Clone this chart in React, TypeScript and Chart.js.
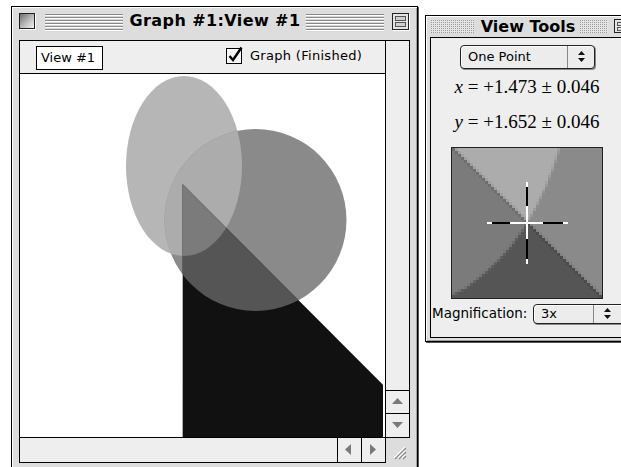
import React, { useEffect, useRef } from "react";
import { Chart, registerables } from "chart.js";

Chart.register(...registerables);

// ---------- data (graph units) ----------
const VIEW_X = [-10.89, 10.89];
const VIEW_Y = [-10.89, 10.89];
const ELLIPSE_CENTER = [-1.05, 5.37];
const ELLIPSE_RADII = [3.48, 5.4];
const CIRCLE_CENTER = [3.24, 2.13];
const CIRCLE_RADIUS = [5.46];
const TRIANGLE_X = [-1.13, 12, 12, -1.13];
const TRIANGLE_Y = [4.27, -8.86, -12, -12];
const POINT = [1.473, 1.652];
const POINT_ERROR = [0.046, 0.046];
const MAGNIFICATION = [3];

// region fill colours: ellipse, circle, ellipse∩circle, triangle, triangle∩circle, all three
const REGION_COLORS = ["#b6b6b6", "#8a8a8a", "#acacac", "#111111", "#555555", "#7b7b7b"];

const SANS = '"DejaVu Sans", Verdana, sans-serif';
const SERIF = '"Liberation Serif", "DejaVu Serif", serif';

const shapesPlugin = {
  id: "shapes",
  beforeDatasetsDraw(chart: any) {
    const { ctx, chartArea: a, scales } = chart;
    const X = (v: number) => scales.x.getPixelForValue(v);
    const Y = (v: number) => scales.y.getPixelForValue(v);
    const ellipse = () => {
      const cx = X(ELLIPSE_CENTER[0]);
      const cy = Y(ELLIPSE_CENTER[1]);
      ctx.beginPath();
      ctx.ellipse(
        cx,
        cy,
        Math.abs(X(ELLIPSE_CENTER[0] + ELLIPSE_RADII[0]) - cx),
        Math.abs(Y(ELLIPSE_CENTER[1] + ELLIPSE_RADII[1]) - cy),
        0,
        0,
        Math.PI * 2
      );
    };
    const circle = () => {
      const cx = X(CIRCLE_CENTER[0]);
      const cy = Y(CIRCLE_CENTER[1]);
      ctx.beginPath();
      ctx.ellipse(
        cx,
        cy,
        Math.abs(X(CIRCLE_CENTER[0] + CIRCLE_RADIUS[0]) - cx),
        Math.abs(Y(CIRCLE_CENTER[1] + CIRCLE_RADIUS[0]) - cy),
        0,
        0,
        Math.PI * 2
      );
    };
    const triangle = () => {
      ctx.beginPath();
      TRIANGLE_X.forEach((x, i) => {
        const p = [X(x), Y(TRIANGLE_Y[i])];
        if (i === 0) ctx.moveTo(p[0], p[1]);
        else ctx.lineTo(p[0], p[1]);
      });
      ctx.closePath();
    };
    const fill = (path: () => void, color: string) => {
      path();
      ctx.fillStyle = color;
      ctx.fill();
    };
    const clip = (path: () => void) => {
      path();
      ctx.clip();
    };
    ctx.save();
    ctx.beginPath();
    ctx.rect(a.left, a.top, a.right - a.left, a.bottom - a.top);
    ctx.clip();
    ctx.fillStyle = "#ffffff";
    ctx.fillRect(a.left, a.top, a.right - a.left, a.bottom - a.top);
    fill(ellipse, REGION_COLORS[0]);
    fill(circle, REGION_COLORS[1]);
    ctx.save();
    clip(circle);
    fill(ellipse, REGION_COLORS[2]);
    ctx.restore();
    fill(triangle, REGION_COLORS[3]);
    ctx.save();
    clip(triangle);
    fill(circle, REGION_COLORS[4]);
    clip(circle);
    fill(ellipse, REGION_COLORS[5]);
    ctx.restore();
    ctx.restore();
  },
};

function GraphCanvas(props: {
  size: number;
  xRange: number[];
  yRange: number[];
  dpr: number;
  style?: React.CSSProperties;
}) {
  const ref = useRef<HTMLCanvasElement | null>(null);
  useEffect(() => {
    if (!ref.current) return;
    const chart = new Chart(ref.current, {
      type: "scatter",
      data: { datasets: [] },
      options: {
        responsive: false,
        animation: false,
        devicePixelRatio: props.dpr,
        events: [],
        layout: { padding: 0 },
        plugins: { legend: { display: false }, tooltip: { enabled: false } },
        scales: {
          x: { type: "linear", display: false, min: props.xRange[0], max: props.xRange[1] },
          y: { type: "linear", display: false, min: props.yRange[0], max: props.yRange[1] },
        },
      } as any,
      plugins: [shapesPlugin],
    });
    return () => chart.destroy();
  }, []);
  return (
    <canvas
      ref={ref}
      width={props.size}
      height={props.size}
      style={{ position: "absolute", width: props.size, height: props.size, ...props.style }}
    />
  );
}

const B = (
  l: number,
  t: number,
  w: number,
  h: number,
  style: React.CSSProperties = {},
  children: React.ReactNode = null,
  key?: string
) => (
  <div
    key={key}
    style={{ position: "absolute", left: l, top: t, width: w, height: h, boxSizing: "border-box", ...style }}
  >
    {children}
  </div>
);

const stripes =
  "repeating-linear-gradient(to bottom, #8a8a8a 0px, #8a8a8a 1px, #ffffff 1px, #ffffff 2px, #d8d8d8 2px, #d8d8d8 3px)";

function Dots({ x, y, w, h, id }: { x: number; y: number; w: number; h: number; id: string }) {
  return (
    <svg style={{ position: "absolute", left: x, top: y }} width={w} height={h}>
      <defs>
        <pattern id={id} x={0} y={0} width={2} height={2} patternUnits="userSpaceOnUse">
          <rect x={0} y={0} width={2} height={2} fill="#e6e6e6" />
          <rect x={0} y={0} width={1} height={1} fill="#9a9a9a" />
        </pattern>
      </defs>
      <rect x={0} y={0} width={w} height={h} fill={`url(#${id})`} />
    </svg>
  );
}

function UpDown({ x, y }: { x: number; y: number }) {
  return (
    <svg style={{ position: "absolute", left: x, top: y }} width={9} height={13}>
      <polygon points="1,5 8,5 4.5,1" fill="#111" />
      <polygon points="1,8 8,8 4.5,12" fill="#111" />
    </svg>
  );
}

function Tri({ x, y, dir }: { x: number; y: number; dir: string }) {
  const pts: Record<string, string> = {
    up: "0,6 11,6 5.5,0",
    down: "0,0 11,0 5.5,6",
    left: "6,0 6,11 0,5.5",
    right: "0,0 0,11 6,5.5",
  };
  const vertical = dir === "up" || dir === "down";
  return (
    <svg style={{ position: "absolute", left: x, top: y }} width={vertical ? 11 : 6} height={vertical ? 6 : 11}>
      <polygon points={pts[dir]} fill="#7a7a7a" />
    </svg>
  );
}

export default function App() {
  const unitsPerPx = (VIEW_X[1] - VIEW_X[0]) / 363;
  const magHalf = (75 / MAGNIFICATION[0]) * unitsPerPx;
  const magX = [POINT[0] - magHalf, POINT[0] + magHalf];
  const magY = [POINT[1] - magHalf, POINT[1] + magHalf];
  const fmt = (v: number) => (v >= 0 ? "+" : "−") + Math.abs(v).toFixed(3);

  const cross: React.ReactNode[] = [];
  const cx = 526;
  const cy = 222;
  // vertical
  cross.push(B(cx, cy - 40, 2, 5, { background: "#fff" }, null, "v1"));
  cross.push(B(cx, cy - 35, 2, 19, { background: "#000" }, null, "v2"));
  cross.push(B(cx, cy - 16, 2, 33, { background: "#fff" }, null, "v3"));
  cross.push(B(cx, cy + 17, 2, 20, { background: "#000" }, null, "v4"));
  cross.push(B(cx, cy + 37, 2, 5, { background: "#fff" }, null, "v5"));
  // horizontal
  cross.push(B(cx - 39, cy, 5, 2, { background: "#fff" }, null, "h1"));
  cross.push(B(cx - 34, cy, 18, 2, { background: "#000" }, null, "h2"));
  cross.push(B(cx - 16, cy, 33, 2, { background: "#fff" }, null, "h3"));
  cross.push(B(cx + 17, cy, 20, 2, { background: "#000" }, null, "h4"));
  cross.push(B(cx + 37, cy, 5, 2, { background: "#fff" }, null, "h5"));

  return (
    <div
      style={{
        position: "fixed",
        left: 0,
        top: 0,
        width: 621,
        height: 467,
        overflow: "hidden",
        background: "#ffffff",
        fontFamily: SANS,
        color: "#000",
      }}
    >
      {/* ===== Main window ===== */}
      {B(11, 6, 407, 470, {
        border: "1px solid #000",
        background: "#dddddd",
        boxShadow: "1px 1px 0 #555, inset 1px 1px 0 #fff, inset -1px -1px 0 #a0a0a0",
      })}
      {B(19, 13, 16, 16, {
        border: "1px solid #222",
        background: "linear-gradient(135deg, #6e6e6e 0%, #bdbdbd 55%, #f2f2f2 100%)",
        boxShadow: "1px 1px 0 #fff",
      })}
      {B(45, 14, 78, 18, { background: stripes })}
      {B(306, 14, 78, 18, { background: stripes })}
      {B(124, 9, 182, 24, {
        textAlign: "center",
        fontWeight: "bold",
        fontSize: 16,
        lineHeight: "24px",
        letterSpacing: 0.4,
        whiteSpace: "nowrap",
      }, "Graph #1:View #1")}
      {B(392, 13, 17, 17, { border: "1px solid #222", background: "#e4e4e4", boxShadow: "1px 1px 0 #fff" },
        <>
          {B(2, 2, 11, 5, { border: "1px solid #555", background: "#cfcfcf" })}
          {B(2, 8, 11, 5, { border: "1px solid #555", background: "#cfcfcf" })}
        </>
      )}

      {/* content box */}
      {B(19, 40, 367, 423, { border: "1px solid #000", background: "#ffffff" })}
      {/* header */}
      {B(20, 41, 365, 33, { background: "#eeeeee", borderBottom: "1px solid #000" })}
      {B(36, 46, 67, 24, {
        border: "1px solid #000",
        background: "#fff",
        fontSize: 13,
        lineHeight: "22px",
        paddingLeft: 4,
        whiteSpace: "nowrap",
      }, "View #1")}
      <svg style={{ position: "absolute", left: 226, top: 46 }} width={19} height={19}>
        <rect x={0.5} y={2.5} width={15} height={15} fill="#f4f4f4" stroke="#000" />
        <rect x={1.5} y={3.5} width={13} height={13} fill="none" stroke="#fff" />
        <polyline points="3.5,10 7,14 15.5,1.5" fill="none" stroke="#000" strokeWidth={2.4} />
      </svg>
      {B(250, 45, 130, 22, { fontSize: 13, lineHeight: "22px", whiteSpace: "nowrap", letterSpacing: 0.3 }, "Graph (Finished)")}

      {/* plot */}
      <GraphCanvas size={363} xRange={VIEW_X} yRange={VIEW_Y} dpr={1} style={{ left: 20, top: 74 }} />

      {/* vertical scroll bar */}
      {B(385, 40, 25, 398, { border: "1px solid #000", background: "#eeeeee" })}
      {B(385, 390, 25, 24, { borderTop: "1px solid #000", borderBottom: "1px solid #000" })}
      <Tri x={392} y={398} dir="up" />
      <Tri x={392} y={422} dir="down" />
      {/* horizontal scroll bar */}
      {B(19, 437, 367, 26, { border: "1px solid #000", background: "#eeeeee" })}
      {B(337, 437, 25, 26, { borderLeft: "1px solid #000", borderRight: "1px solid #000" })}
      <Tri x={345} y={444} dir="left" />
      <Tri x={370} y={444} dir="right" />
      {/* grow box */}
      <svg style={{ position: "absolute", left: 388, top: 441 }} width={20} height={20}>
        {[0, 4, 8].map((o) => (
          <g key={o}>
            <line x1={6 + o} y1={17} x2={17} y2={6 + o} stroke="#fff" strokeWidth={1.2} />
            <line x1={7 + o} y1={18} x2={18} y2={7 + o} stroke="#8a8a8a" strokeWidth={1.2} />
          </g>
        ))}
      </svg>

      {/* ===== View Tools window ===== */}
      {B(425, 15, 210, 327, {
        border: "1px solid #000",
        background: "#dddddd",
        boxShadow: "1px 1px 0 #555, inset 1px 1px 0 #fff, inset -1px -1px 0 #a0a0a0",
      })}
      <Dots x={431} y={20} w={43} h={13} id="dotsL" />
      <Dots x={580} y={20} w={28} h={13} id="dotsR" />
      {B(476, 15, 104, 23, {
        textAlign: "center",
        fontWeight: "bold",
        fontSize: 16,
        lineHeight: "23px",
        whiteSpace: "nowrap",
      }, "View Tools")}
      {B(614, 19, 14, 14, { border: "1px solid #222", background: "#e4e4e4" },
        <>{B(2, 2, 10, 4, { border: "1px solid #555" })}{B(2, 7, 10, 4, { border: "1px solid #555" })}</>
      )}
      {B(430, 37, 200, 301, { border: "1px solid #000", background: "#eeeeee" })}

      {/* popup One Point */}
      {B(460, 45, 135, 24, {
        border: "1px solid #222",
        borderRadius: 4,
        background: "#ececec",
        boxShadow: "1px 1px 0 #888, inset 1px 1px 0 #fff",
      })}
      {B(567, 46, 1, 22, { background: "#888" })}
      {B(468, 45, 100, 24, { fontSize: 13, lineHeight: "23px", whiteSpace: "nowrap" }, "One Point")}
      <UpDown x={577} y={50} />

      {B(432, 74, 190, 26, {
        fontFamily: SERIF,
        fontSize: 19,
        lineHeight: "26px",
        textAlign: "center",
        whiteSpace: "nowrap",
      }, <><i>x</i> = {fmt(POINT[0])} ± {POINT_ERROR[0].toFixed(3)}</>)}
      {B(432, 109, 190, 26, {
        fontFamily: SERIF,
        fontSize: 19,
        lineHeight: "26px",
        textAlign: "center",
        whiteSpace: "nowrap",
      }, <><i>y</i> = {fmt(POINT[1])} ± {POINT_ERROR[1].toFixed(3)}</>)}

      {/* magnifier */}
      {B(451, 147, 152, 152, { border: "1px solid #222", background: "#fff" })}
      <GraphCanvas size={150} xRange={magX} yRange={magY} dpr={1 / MAGNIFICATION[0]} style={{ left: 452, top: 148, imageRendering: "pixelated" }} />
      {cross}

      {B(432, 303, 100, 20, { fontSize: 13.5, lineHeight: "20px", whiteSpace: "nowrap" }, "Magnification:")}
      {B(533, 304, 95, 20, {
        border: "1px solid #222",
        borderRadius: 4,
        background: "#ececec",
        boxShadow: "1px 1px 0 #888, inset 1px 1px 0 #fff",
      })}
      {B(593, 305, 1, 18, { background: "#888" })}
      {B(541, 304, 40, 20, { fontSize: 13, lineHeight: "19px" }, "3x")}
      <UpDown x={603} y={307} />
    </div>
  );
}
